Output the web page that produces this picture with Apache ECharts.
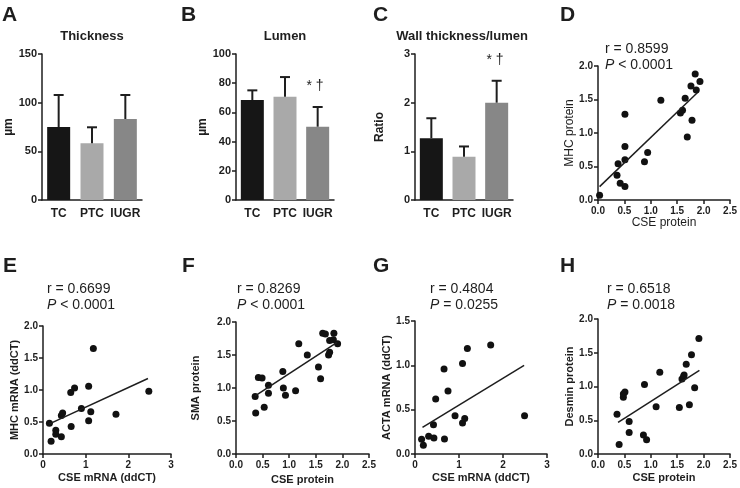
<!DOCTYPE html>
<html><head><meta charset="utf-8">
<script src="https://cdn.jsdelivr.net/npm/echarts@6/dist/echarts.min.js"></script>
<style>html,body{margin:0;padding:0;background:#fff}#c{width:740px;height:488px}</style>
</head><body><div id="c"></div>
<script>
// ---------- DATA ----------
const groups = ['TC', 'PTC', 'IUGR'];
const barColors = ['#161616', '#a9a9a9', '#878787'];
const thickMean = [75, 58.2, 83.2];
const thickTop  = [107.9, 74.7, 107.9];
const lumenMean = [68.5, 70.8, 50.2];
const lumenTop  = [75.1, 84.2, 63.7];
const ratioMean = [1.27, 0.89, 2.0];
const ratioTop  = [1.68, 1.10, 2.45];

const ptsD = [[0.03,0.07],[0.51,1.28],[0.51,0.80],[0.51,0.60],[0.38,0.54],[0.36,0.37],[0.42,0.25],[0.51,0.20],
  [0.88,0.57],[0.94,0.71],[1.19,1.49],[1.56,1.30],[1.60,1.34],[1.65,1.52],[1.69,0.94],[1.78,1.19],
  [1.76,1.70],[1.84,1.88],[1.86,1.64],[1.93,1.77]];
const fitD = [[0.03,0.20],[1.88,1.60]];

const ptsE = [[0.15,0.48],[0.19,0.20],[0.30,0.37],[0.30,0.31],[0.43,0.27],[0.43,0.60],[0.46,0.64],[0.66,0.43],
  [0.65,0.96],[0.74,1.03],[0.90,0.71],[1.07,1.06],[1.07,0.52],[1.12,0.66],[1.18,1.65],[1.71,0.62],[2.48,0.98]];
const fitE = [[0.15,0.47],[2.46,1.18]];

const ptsF = [[0.37,0.62],[0.36,0.87],[0.42,1.16],[0.49,1.15],[0.53,0.71],[0.61,1.04],[0.61,0.92],[0.88,1.25],
  [0.89,1.00],[0.93,0.89],[1.12,0.96],[1.18,1.67],[1.34,1.50],[1.55,1.32],[1.59,1.14],[1.63,1.83],
  [1.68,1.82],[1.74,1.50],[1.76,1.54],[1.76,1.72],[1.83,1.73],[1.84,1.83],[1.91,1.67]];
const fitF = [[0.36,0.88],[1.90,1.69]];

const ptsG = [[0.15,0.165],[0.19,0.10],[0.31,0.20],[0.43,0.18],[0.42,0.33],[0.67,0.17],[0.47,0.62],[0.66,0.96],
  [0.75,0.71],[0.91,0.43],[1.08,1.02],[1.08,0.35],[1.13,0.40],[1.19,1.19],[1.72,1.23],[2.49,0.43]];
const fitG = [[0.17,0.30],[2.48,1.00]];

const ptsH = [[0.36,0.59],[0.40,0.14],[0.48,0.84],[0.48,0.89],[0.51,0.92],[0.59,0.48],[0.59,0.32],[0.86,0.28],
  [0.88,1.03],[0.92,0.21],[1.10,0.70],[1.17,1.21],[1.54,0.69],[1.59,1.11],[1.62,1.15],[1.63,1.17],
  [1.67,1.33],[1.73,0.73],[1.77,1.47],[1.83,0.98],[1.91,1.71]];
const fitH = [[0.38,0.47],[1.92,1.24]];

// ---------- BUILD ----------
const FONT = 'Liberation Sans, Arial, Helvetica, sans-serif';
const INK = '#1e1e1e';
const grids = [], xAxes = [], yAxes = [], series = [];

function axisCommon() {
  return {
    axisLine: { show: true, onZero: false, lineStyle: { color: INK, width: 1.5 } },
    splitLine: { show: false },
  };
}

function barPanel(g, mean, top, yMax, yInt, yName, nameGap) {
  const i = grids.length;
  grids.push(g);
  xAxes.push(Object.assign(axisCommon(), {
    type: 'category', gridIndex: i, data: groups,
    axisTick: { show: false },
    axisLabel: { interval: 0, color: INK, fontFamily: FONT, fontWeight: 'bold', fontSize: 12, margin: 8 }
  }));
  yAxes.push(Object.assign(axisCommon(), {
    type: 'value', gridIndex: i, min: 0, max: yMax, interval: yInt,
    axisTick: { show: true, length: 4, lineStyle: { color: INK, width: 1.5 } },
    axisLabel: { color: INK, fontFamily: FONT, fontWeight: 'bold', fontSize: 11, margin: 5 },
    name: yName, nameLocation: 'middle', nameGap: nameGap, nameRotate: 90,
    nameTextStyle: { color: INK, fontFamily: FONT, fontWeight: 'bold', fontSize: 12 }
  }));
  series.push({
    type: 'bar', xAxisIndex: i, yAxisIndex: i, barWidth: 23,
    data: mean.map((v, k) => ({ value: v, itemStyle: { color: barColors[k] } }))
  });
  series.push({
    type: 'custom', xAxisIndex: i, yAxisIndex: i, z: 5,
    data: mean.map((v, k) => [k, v, top[k]]),
    encode: { x: 0, y: [1, 2] },
    renderItem: function (params, api) {
      const p0 = api.coord([api.value(0), api.value(1)]);
      const p1 = api.coord([api.value(0), api.value(2)]);
      const half = 5;
      const st = { stroke: INK, lineWidth: 2 };
      return { type: 'group', children: [
        { type: 'line', shape: { x1: p0[0], y1: p0[1], x2: p1[0], y2: p1[1] }, style: st },
        { type: 'line', shape: { x1: p1[0] - half, y1: p1[1], x2: p1[0] + half, y2: p1[1] }, style: st }
      ]};
    }
  });
}

function scatterPanel(g, pts, fit, xMax, xInt, xDec, yMax, yInt, xName, yName, bold, xGap, yGap) {
  const i = grids.length;
  grids.push(g);
  const nameStyle = { color: INK, fontFamily: FONT, fontWeight: bold ? 'bold' : 'normal', fontSize: bold ? 11 : 12 };
  xAxes.push(Object.assign(axisCommon(), {
    type: 'value', gridIndex: i, min: 0, max: xMax, interval: xInt,
    axisTick: { show: true, length: 4, lineStyle: { color: INK, width: 1.5 } },
    axisLabel: { color: INK, fontFamily: FONT, fontWeight: 'bold', fontSize: 10, margin: 6,
      formatter: v => v.toFixed(xDec) },
    name: xName, nameLocation: 'middle', nameGap: xGap, nameTextStyle: nameStyle
  }));
  yAxes.push(Object.assign(axisCommon(), {
    type: 'value', gridIndex: i, min: 0, max: yMax, interval: yInt,
    axisTick: { show: true, length: 4, lineStyle: { color: INK, width: 1.5 } },
    axisLabel: { color: INK, fontFamily: FONT, fontWeight: 'bold', fontSize: 10, margin: 5,
      formatter: v => v.toFixed(1) },
    name: yName, nameLocation: 'middle', nameGap: yGap, nameRotate: 90, nameTextStyle: nameStyle
  }));
  series.push({
    type: 'scatter', xAxisIndex: i, yAxisIndex: i, symbolSize: 7,
    itemStyle: { color: '#111', opacity: 1 }, data: pts
  });
  series.push({
    type: 'line', xAxisIndex: i, yAxisIndex: i, showSymbol: false, symbol: 'none',
    lineStyle: { color: INK, width: 1.5 }, data: fit, z: 3
  });
}

barPanel({ left: 42, top: 54, width: 100, height: 146 }, thickMean, thickTop, 150, 50, 'µm', 20);
barPanel({ left: 236, top: 54, width: 98, height: 146 }, lumenMean, lumenTop, 100, 20, 'µm', 20);
barPanel({ left: 415, top: 54, width: 98, height: 146 }, ratioMean, ratioTop, 3, 1, 'Ratio', 29);
scatterPanel({ left: 598, top: 66, width: 135, height: 134 }, ptsD, fitD, 2.5, 0.5, 1, 2, 0.5,
  'CSE protein', 'MHC protein', false, 11, 21);
scatterPanel({ left: 43, top: 326, width: 128, height: 128 }, ptsE, fitE, 3, 1, 0, 2, 0.5,
  'CSE mRNA (ddCT)', 'MHC mRNA (ddCT)', true, 18, 21);
scatterPanel({ left: 236, top: 322, width: 133, height: 132 }, ptsF, fitF, 2.5, 0.5, 1, 2, 0.5,
  'CSE protein', 'SMA protein', true, 20, 35);
scatterPanel({ left: 415, top: 321, width: 132, height: 133 }, ptsG, fitG, 3, 1, 0, 1.5, 0.5,
  'CSE mRNA (ddCT)', 'ACTA mRNA (ddCT)', true, 18, 22);
scatterPanel({ left: 598, top: 319, width: 135, height: 135 }, ptsH, fitH, 2.5, 0.5, 1, 2, 0.5,
  'CSE protein', 'Desmin protein', true, 18, 22);

// ---------- TEXTS ----------
const letters = [['A', 2, 15], ['B', 181, 15], ['C', 373, 15], ['D', 560, 15],
                 ['E', 3, 266], ['F', 182, 266], ['G', 373, 266], ['H', 560, 266]];
const titles = [['Thickness', 92, 36], ['Lumen', 285, 36], ['Wall thickness/lumen', 462, 36]];
const marks = [['* †', 315, 86], ['* †', 495, 60]];
const stats = [['r = 0.8599', '<', '0.0001', 605, 49], ['r = 0.6699', '<', '0.0001', 47, 289],
               ['r = 0.8269', '<', '0.0001', 237, 289], ['r = 0.4804', '=', '0.0255', 430, 289],
               ['r = 0.6518', '=', '0.0018', 607, 289]];
const graphics = [];
letters.forEach(([t, x, y]) => graphics.push({ type: 'text', x, y,
  style: { text: t, fill: INK, font: 'bold 21px ' + FONT, textAlign: 'left', textVerticalAlign: 'middle' } }));
titles.forEach(([t, x, y]) => graphics.push({ type: 'text', x, y,
  style: { text: t, fill: INK, font: 'bold 13px ' + FONT, textAlign: 'center', textVerticalAlign: 'middle' } }));
marks.forEach(([t, x, y]) => graphics.push({ type: 'text', x, y,
  style: { text: t, fill: INK, font: '14px ' + FONT, textAlign: 'center', textVerticalAlign: 'middle' } }));
stats.forEach(([r, op, p, x, y]) => {
  graphics.push({ type: 'text', x, y,
    style: { text: r, fill: INK, font: '14px ' + FONT, textAlign: 'left', textVerticalAlign: 'middle' } });
  graphics.push({ type: 'text', x, y: y + 16,
    style: { text: '{i|P} ' + op + ' ' + p, fill: INK, font: '14px ' + FONT, textAlign: 'left', textVerticalAlign: 'middle',
      rich: { i: { fontStyle: 'italic', fontSize: 14, fontFamily: FONT, fill: INK } } } });
});

const chart = echarts.init(document.getElementById('c'), null, { renderer: 'canvas' });
chart.setOption({
  animation: false,
  backgroundColor: '#fff',
  textStyle: { fontFamily: FONT },
  grid: grids, xAxis: xAxes, yAxis: yAxes, series: series, graphic: graphics
});
</script></body></html>
